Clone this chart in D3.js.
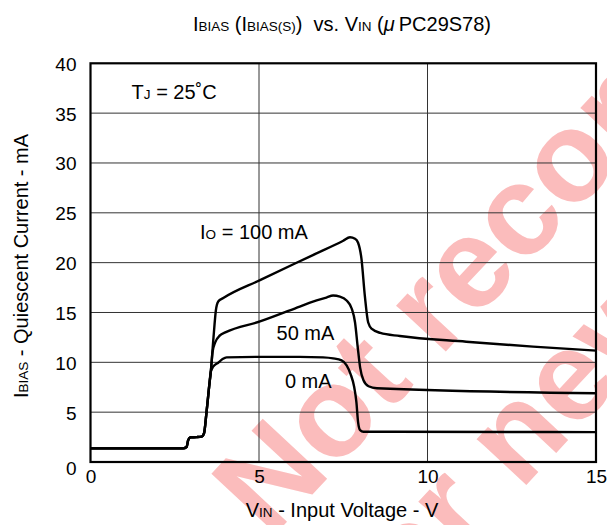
<!DOCTYPE html>
<html><head><meta charset="utf-8">
<script src="https://cdn.jsdelivr.net/npm/d3@7/dist/d3.min.js"></script>
<style>
html,body{margin:0;padding:0;background:#fff;}
svg text{font-family:"Liberation Sans",Arial,Helvetica,sans-serif;}
</style></head>
<body><svg id="c" width="607" height="525"></svg>
<script>
// ---- data ----
const xTicks = [0, 5, 10, 15];
const yTicks = [0, 5, 10, 15, 20, 25, 30, 35, 40];

const vin0  = [0, 2.75, 2.85, 2.9, 2.97, 3.15, 3.3, 3.37, 3.44, 3.52, 3.57, 3.64, 3.79, 3.92, 4.04, 5.0, 6.2, 6.9, 7.2, 7.45, 7.6, 7.72, 7.82, 7.89, 7.94, 8.0, 8.1, 9.0, 15];
const iq0   = [1.37, 1.37, 1.5, 2.2, 2.48, 2.5, 2.55, 2.9, 4.9, 7.55, 9.06, 9.56, 9.96, 10.33, 10.5, 10.55, 10.55, 10.5, 10.4, 10.2, 9.7, 8.8, 7.6, 6.0, 4.0, 3.2, 3.04, 3.03, 3.0];

const vin50 = [0, 2.75, 2.85, 2.9, 2.97, 3.15, 3.3, 3.37, 3.44, 3.52, 3.57, 3.62, 3.7, 3.84, 4.0, 5.03, 6.21, 6.6, 7.0, 7.2, 7.4, 7.6, 7.75, 7.85, 7.93, 8.0, 8.1, 8.25, 8.5, 15];
const iq50  = [1.37, 1.37, 1.5, 2.2, 2.48, 2.5, 2.55, 2.9, 4.9, 7.55, 9.06, 11.0, 12.0, 12.7, 13.0, 14.1, 15.6, 16.1, 16.5, 16.7, 16.6, 16.2, 15.4, 14.0, 11.5, 9.5, 8.2, 7.6, 7.4, 6.9];

const vin100 = [0, 2.75, 2.85, 2.9, 2.97, 3.15, 3.3, 3.37, 3.44, 3.52, 3.57, 3.65, 3.72, 3.79, 3.94, 5.03, 6.6, 7.5, 7.7, 7.85, 7.94, 8.04, 8.14, 8.24, 8.35, 8.6, 9.18, 11.15, 13.13, 15];
const iq100  = [1.37, 1.37, 1.5, 2.2, 2.48, 2.5, 2.55, 2.9, 4.9, 7.55, 9.06, 12.5, 15.2, 16.1, 16.45, 18.25, 20.76, 22.2, 22.55, 22.4, 22.0, 20.4, 16.7, 14.0, 13.35, 12.95, 12.64, 12.07, 11.57, 11.17];

// curve labels: [main, sub, rest, V, I]
const curveLabels = [
  ["I", "O", " = 100 mA", 3.25, 22.35],
  ["", "", "50 mA", 5.52, 12.2],
  ["", "", "0 mA", 5.77, 7.4]
];

// ---- layout ----
const L = 90.5, R = 596, T = 63.3, B = 462;
const svg = d3.select("#c");
const x = d3.scaleLinear().domain([0, 15]).range([L, R]);
const y = d3.scaleLinear().domain([0, 40]).range([B, T]);

// watermark (behind)
const wm = svg.append("g").attr("transform", "translate(270,540) rotate(-47)")
  .attr("fill", "#fbbcbc").attr("font-weight", "bold").attr("font-size", 128);
wm.append("text").attr("x", 0).attr("y", 0).text("Not recommended");
wm.append("text").attr("x", 0).attr("y", 150).text("for new design");

// grid
const grid = svg.append("g");
grid.selectAll("line.h").data(yTicks.slice(1, -1)).join("line")
  .attr("x1", L).attr("x2", R).attr("y1", d => y(d)).attr("y2", d => y(d))
  .attr("stroke", "#333").attr("stroke-width", 1);
grid.selectAll("line.v").data(xTicks.slice(1, -1)).join("line")
  .attr("y1", T).attr("y2", B).attr("x1", d => x(d)).attr("x2", d => x(d))
  .attr("stroke", "#333").attr("stroke-width", 1);

// axes (tick labels only)
const xAxis = svg.append("g").attr("transform", `translate(0,${B})`)
  .call(d3.axisBottom(x).tickValues(xTicks).tickSize(0).tickPadding(0).tickFormat(d3.format("d")));
xAxis.select(".domain").remove();
xAxis.selectAll("text").attr("dy", null).attr("y", 21).attr("font-size", 19).attr("fill", "#000");

const yAxis = svg.append("g").attr("transform", `translate(${L},0)`)
  .call(d3.axisLeft(y).tickValues(yTicks).tickSize(0).tickPadding(0).tickFormat(d3.format("d")));
yAxis.select(".domain").remove();
yAxis.selectAll("text").attr("dy", null).attr("x", -14).attr("y", d => d === 0 ? 12 : 7)
  .attr("font-size", 19).attr("fill", "#000");

// curves
const line = d3.line().x(d => x(d[0])).y(d => y(d[1])).curve(d3.curveMonotoneX);
const series = [[vin0, iq0], [vin50, iq50], [vin100, iq100]];
svg.append("g").selectAll("path").data(series).join("path")
  .attr("d", s => line(s[0].map((v, i) => [v, s[1][i]])))
  .attr("fill", "none").attr("stroke", "#000").attr("stroke-width", 2.4)
  .attr("stroke-linejoin", "round");

// frame
svg.append("rect").attr("x", L).attr("y", T).attr("width", R - L).attr("height", B - T)
  .attr("fill", "none").attr("stroke", "#000").attr("stroke-width", 2.2);

// helper for text with smaller subscript-style parts
function rich(sel, parts) {
  parts.forEach(p => {
    const t = sel.append("tspan").text(p[0]);
    if (p[1]) t.attr("font-size", p[1]);
    if (p[2]) t.attr("font-style", p[2]);
  });
  return sel;
}

// curve labels
curveLabels.forEach(c => {
  const t = svg.append("text").attr("x", x(c[3])).attr("y", y(c[4])).attr("font-size", 20);
  const parts = [];
  if (c[0]) parts.push([c[0]]);
  if (c[1]) parts.push([c[1], 13.5]);
  parts.push([c[2]]);
  rich(t, parts);
});

// TJ label
rich(svg.append("text").attr("x", x(1.22)).attr("y", y(36.45)).attr("font-size", 20),
  [["T"], ["J", 13.5], [" = 25˚C"]]);

// title
rich(svg.append("text").attr("x", 342).attr("y", 30.5).attr("text-anchor", "middle").attr("font-size", 20),
  [["I"], ["BIAS", 13.5], [" (I"], ["BIAS(S)", 13.5], [")\u00a0 vs. V"], ["IN", 13.5], [" ("], ["μ", null, "italic"], ["\u2009PC29S78)"]]);

// axis titles
rich(svg.append("text").attr("x", 342).attr("y", 516.7).attr("text-anchor", "middle").attr("font-size", 20),
  [["V"], ["IN", 13.5], [" - Input Voltage - V"]]);

rich(svg.append("text").attr("transform", "translate(28.3,266) rotate(-90)").attr("text-anchor", "middle").attr("font-size", 20),
  [["I"], ["BIAS", 13.5], [" - Quiescent Current - mA"]]);
</script></body></html>
